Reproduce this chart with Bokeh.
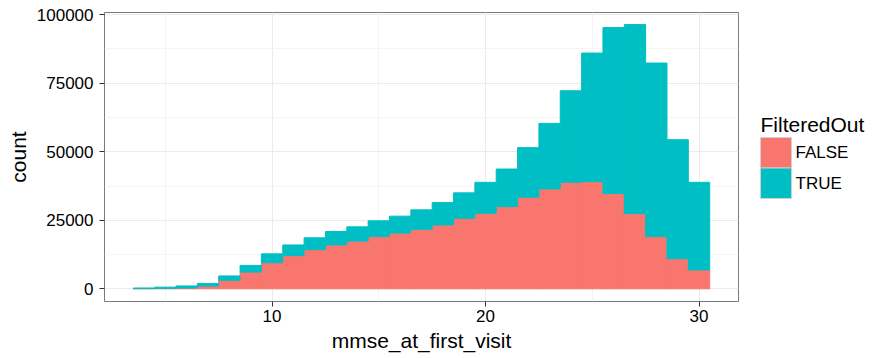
from bokeh.plotting import figure
from bokeh.layouts import row
from bokeh.models import ColumnDataSource, Range1d, FixedTicker, NumeralTickFormatter
from bokeh.core.properties import value
from bokeh.embed import file_html
from bokeh.resources import INLINE

# Histogram of MMSE score at first visit (bin width 1), stacked by FilteredOut
mmse_bins = [4, 5, 6, 7, 8, 9, 10, 11, 12, 13, 14, 15, 16, 17, 18, 19, 20,
             21, 22, 23, 24, 25, 26, 27, 28, 29, 30]
count_false = [80, 150, 300, 1000, 3100, 6100, 9500, 12100, 14300, 16000, 17400,
               19050, 20350, 21700, 23300, 25700, 27550, 30000, 33400, 36450,
               38850, 39100, 34750, 27450, 19050, 10950, 6900]
count_true = [220, 450, 750, 950, 1600, 2450, 3250, 3900, 4300, 4900, 5200,
              5750, 6150, 7100, 8150, 9300, 11300, 13700, 18100, 23900, 33400,
              46900, 60550, 68950, 63300, 43450, 31950]
groups = ["FALSE", "TRUE"]
group_colors = ["#F8766D", "#00BFC4"]
legend_title = "FilteredOut"
x_breaks = [10, 20, 30]
y_breaks = [0, 25000, 50000, 75000, 100000]

FONT = "Liberation Sans"
FRAME_TOP, FRAME_BOTTOM = 12, 301

source = ColumnDataSource(dict(mmse=mmse_bins, FALSE=count_false, TRUE=count_true))

p = figure(width=745, height=358, output_backend="svg", toolbar_location=None,
           x_range=Range1d(2.15, 31.85), y_range=Range1d(-4630, 100800),
           min_border_left=104, min_border_right=7, min_border_top=FRAME_TOP,
           min_border_bottom=358 - FRAME_BOTTOM, background_fill_color="white",
           border_fill_color="white")

p.vbar_stack(groups, x="mmse", width=1.0, source=source,
             fill_color=group_colors, line_color=group_colors, line_width=1)

# grid
p.xgrid.ticker = FixedTicker(ticks=x_breaks, minor_ticks=[5, 15, 25])
p.ygrid.ticker = FixedTicker(ticks=y_breaks, minor_ticks=[12500, 37500, 62500, 87500])
for g in (p.xgrid, p.ygrid):
    g.grid_line_color = "#EBEBEB"
    g.grid_line_width = 1
    g.minor_grid_line_color = "#F4F4F4"
    g.minor_grid_line_width = 1

# axes
p.xaxis.ticker = FixedTicker(ticks=x_breaks)
p.yaxis.ticker = FixedTicker(ticks=y_breaks)
p.yaxis.formatter = NumeralTickFormatter(format="0")
p.xaxis.axis_label = "mmse_at_first_visit"
p.yaxis.axis_label = "count"
for ax in (p.xaxis, p.yaxis):
    ax.axis_line_color = None
    ax.major_tick_line_color = "#333333"
    ax.major_tick_line_width = 1
    ax.major_tick_out = 5
    ax.major_tick_in = 0
    ax.minor_tick_line_color = None
    ax.major_label_text_font = FONT
    ax.major_label_text_font_size = "17px"
    ax.major_label_text_color = "black"
    ax.axis_label_text_font = FONT
    ax.axis_label_text_font_size = "21px"
    ax.axis_label_text_font_style = "normal"
    ax.axis_label_text_color = "black"
p.xaxis.major_label_standoff = 3
p.xaxis.axis_label_standoff = 4
p.yaxis.major_label_standoff = 6
p.yaxis.axis_label_standoff = 4

# panel border
p.outline_line_color = "#7a7a7a"
p.outline_line_width = 1
p.outline_line_alpha = 1

# legend panel: its frame lines up with the main frame in the row, so the
# ranges are set to page pixels (x from the left edge, y pointing down)
leg = figure(width=128, height=358, output_backend="svg",
             toolbar_location=None, title=None,
             x_axis_location=None, y_axis_location=None,
             x_range=Range1d(745, 873), y_range=Range1d(FRAME_BOTTOM, FRAME_TOP),
             min_border=0, background_fill_color="white",
             border_fill_color="white")
leg.grid.visible = False
leg.outline_line_color = None

key_x = 760
key_w = 31
key_h = 30.5
key_top = 137
key_src = ColumnDataSource(dict(
    x=[key_x + key_w / 2] * len(groups),
    y=[key_top + key_h * (i + 0.5) for i in range(len(groups))],
    color=group_colors, label=groups,
    lx=[key_x + key_w + 4] * len(groups)))
leg.rect(x="x", y="y", width=key_w, height=key_h, fill_color="color",
         line_color="#d0d0d0", line_width=1, source=key_src)
leg.text(x="lx", y="y", text="label", source=key_src, text_font=value(FONT),
         text_font_size="17px", text_baseline="middle", text_color="black")
leg.text(x=[key_x], y=[124], text=[legend_title], text_font=value(FONT),
         text_font_size="21px", text_baseline="middle", text_color="black")

layout = row(p, leg, spacing=0)

open("out.html", "w").write(file_html(layout, INLINE))
